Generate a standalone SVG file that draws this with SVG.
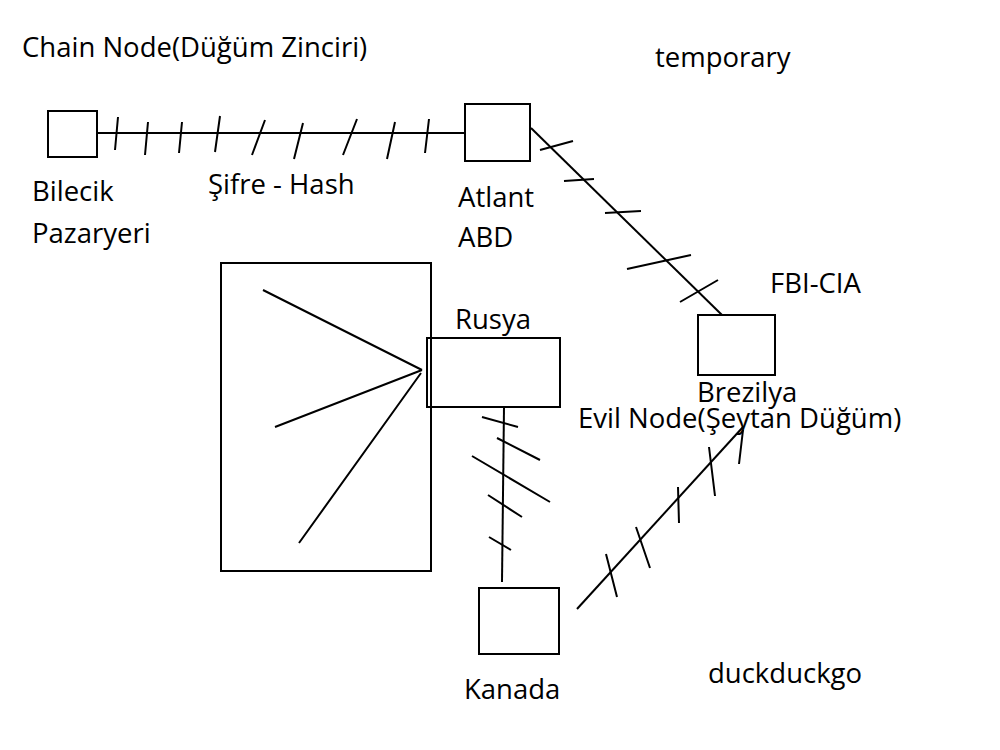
<svg xmlns="http://www.w3.org/2000/svg" width="1000" height="750" viewBox="0 0 1000 750">
<style>
.box{fill:none;stroke:#000;stroke-width:2}
.ln{stroke:#000;stroke-width:2;fill:none}
text{font-family:"Open Sans","Noto Sans",sans-serif;font-size:27.5px;fill:#000}
</style>
<rect width="1000" height="750" fill="#fff"/>
<g id="titles">
<text x="22" y="57">Chain Node(Düğüm Zinciri)</text>
<text x="655" y="67">temporary</text>
<text x="208" y="194">Şifre - Hash</text>
<text x="770" y="293">FBI-CIA</text>
<text x="578" y="428">Evil Node(Şeytan Düğüm)</text>
<text x="708" y="683">duckduckgo</text>
</g>
<g id="connectors">
<line class="ln" x1="97" y1="133" x2="465" y2="133"/>
<path class="ln" d="M118 117L115 150M148 122L145 155M182 122L179 153M220 116L215 152M265 120L252 155M303 123L294 159M357 119L343 155M395 122L387 159M429 119L425 153"/>
<line class="ln" x1="531" y1="128" x2="722" y2="315"/>
<path class="ln" d="M540 150L573 141M564 181L594 179M605 213L641 211M627 269L691 255M680 302L718 280"/>
<line class="ln" x1="504" y1="407" x2="502" y2="582"/>
<path class="ln" d="M482 417L518 427M497 438L540 460M472 456L550 502M488 495L522 517M489 537L511 550"/>
<line class="ln" x1="577" y1="609" x2="743" y2="427"/>
<path class="ln" d="M606 554L617 597M636 527L650 568M678 487L679 523M709 447L715 496M743 430L739 464"/>
</g>
<g id="bilecik">
<rect class="box" x="48" y="111" width="49" height="46"/>
<text x="32" y="201">Bilecik</text>
<text x="32" y="243">Pazaryeri</text>
</g>
<g id="atlanta">
<rect class="box" x="465" y="104" width="65" height="57"/>
<text x="458" y="207">Atlant</text>
<text x="458" y="247">ABD</text>
</g>
<g id="brezilya">
<rect class="box" x="698" y="315" width="77" height="60"/>
<text x="697" y="402">Brezilya</text>
</g>
<g id="network">
<rect class="box" x="221" y="263" width="210" height="308"/>
<path class="ln" d="M263 290L422 370M275 427L422 370M299 543L421 373"/>
</g>
<g id="rusya">
<rect class="box" x="427" y="338" width="133" height="69"/>
<text x="455" y="329">Rusya</text>
</g>
<g id="kanada">
<rect class="box" x="479" y="588" width="80" height="66"/>
<text x="464" y="699">Kanada</text>
</g>
</svg>
